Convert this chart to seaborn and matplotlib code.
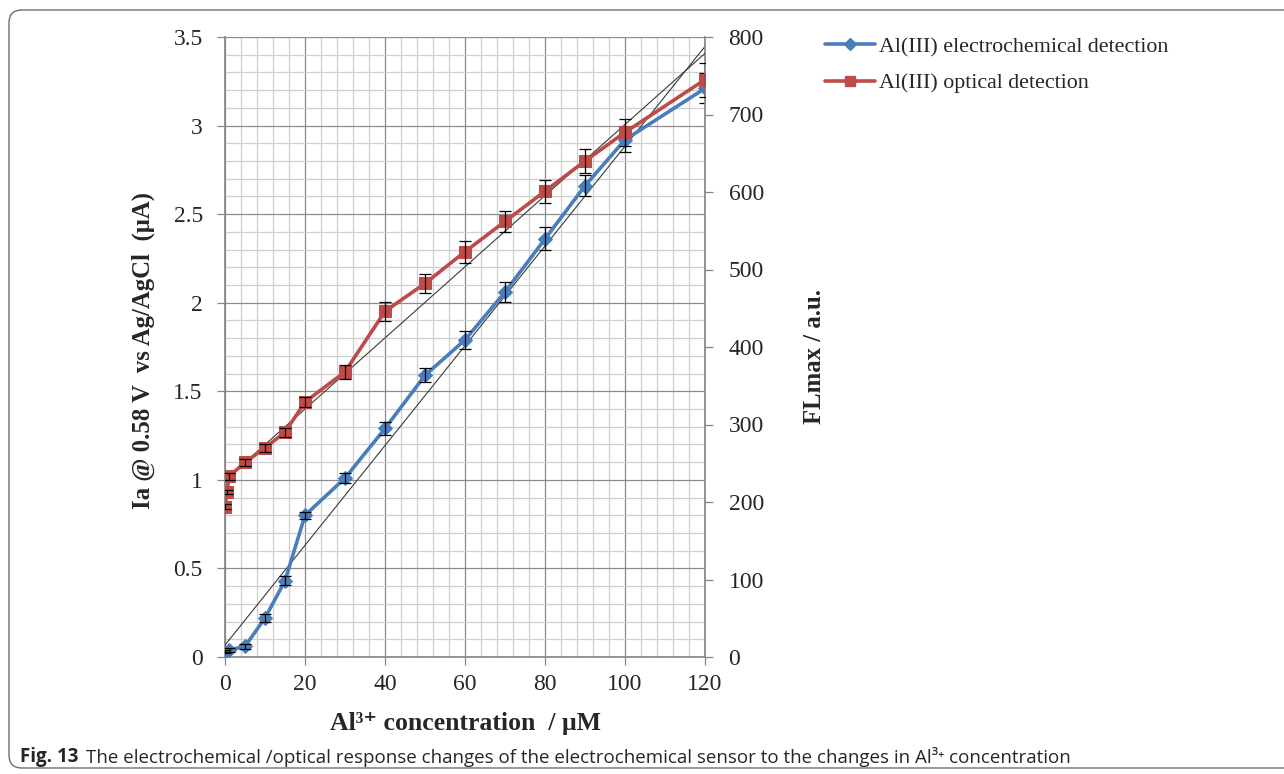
import numpy as np
import pandas as pd
import matplotlib
matplotlib.use("Agg")
import matplotlib.pyplot as plt
import seaborn as sns
from matplotlib.patches import FancyBboxPatch
from matplotlib.lines import Line2D
from matplotlib.ticker import MultipleLocator

# ---------------- data ----------------
conc_echem = [0, 1, 5, 10, 15, 20, 30, 40, 50, 60, 70, 80, 90, 100, 120]
ia_echem = [0.03, 0.04, 0.06, 0.22, 0.43, 0.80, 1.01, 1.29, 1.59, 1.79, 2.06, 2.36, 2.66, 2.92, 3.21]
err_echem = [0.01, 0.01, 0.015, 0.02, 0.025, 0.02, 0.03, 0.035, 0.04, 0.05, 0.055, 0.065, 0.06, 0.07, 0.085]

conc_opt = [0, 0.5, 1, 5, 10, 15, 20, 30, 40, 50, 60, 70, 80, 90, 100, 120]
fl_opt = [194, 213, 233, 251, 270, 290, 329, 368, 446, 482, 523, 562, 601, 640, 677, 745]
err_opt = [3, 3, 4, 4, 5, 6, 7, 9, 12, 12, 14, 14, 15, 16, 17, 22]

x_ticks = [0, 20, 40, 60, 80, 100, 120]
left_ticks = [0, 0.5, 1, 1.5, 2, 2.5, 3, 3.5]
right_ticks = [0, 100, 200, 300, 400, 500, 600, 700, 800]

label_echem = "Al(III) electrochemical detection"
label_opt = "Al(III) optical detection"
caption_bold = "Fig. 13"
caption_text = "The electrochemical /optical response changes of the electrochemical sensor to the changes in Al³⁺ concentration"

# ---------------- style ----------------
sns.set_theme(style="white")
plt.rcParams["font.family"] = ["Liberation Serif", "DejaVu Serif"]

BLUE = "#4A7EBB"
RED = "#BE4B48"
MAJOR_GRID = "#8C8C8C"
MINOR_GRID = "#CFCFCF"
SPINE = "#868686"

W, H = 1284, 774
fig = plt.figure(figsize=(W / 100, H / 100), dpi=100)
fig.patch.set_facecolor("white")

ax = fig.add_axes([225 / W, 1 - 657 / H, 480 / W, 620 / H])
ax2 = ax.twinx()

df_e = pd.DataFrame({"x": conc_echem, "y": ia_echem, "e": err_echem})
df_o = pd.DataFrame({"x": conc_opt, "y": fl_opt, "e": err_opt})

# grid
ax.set_xlim(0, 120)
ax.set_ylim(0, 3.5)
ax.xaxis.set_major_locator(MultipleLocator(20))
ax.xaxis.set_minor_locator(MultipleLocator(4))
ax.yaxis.set_major_locator(MultipleLocator(0.5))
ax.yaxis.set_minor_locator(MultipleLocator(0.1))
ax.grid(True, which="major", color=MAJOR_GRID, linewidth=0.9)
ax.grid(True, which="minor", color=MINOR_GRID, linewidth=0.9)
ax.set_axisbelow(True)

# trendlines (linear fits)
sns.regplot(data=df_e, x="x", y="y", ax=ax, scatter=False, ci=None,
            line_kws=dict(color="#3A3A3A", linewidth=0.8, zorder=3))
sns.regplot(data=df_o, x="x", y="y", ax=ax2, scatter=False, ci=None,
            line_kws=dict(color="#3A3A3A", linewidth=0.8, zorder=3))

# series
sns.lineplot(data=df_e, x="x", y="y", ax=ax, color=BLUE, linewidth=2.6,
             marker="D", markersize=7, markeredgecolor=BLUE, zorder=4, legend=False)
ax.errorbar(df_e["x"], df_e["y"], yerr=df_e["e"], fmt="none", ecolor="black",
            elinewidth=0.9, capsize=4, capthick=0.9, zorder=5)

sns.lineplot(data=df_o, x="x", y="y", ax=ax2, color=RED, linewidth=2.6,
             marker="s", markersize=8.5, markeredgecolor=RED, zorder=4, legend=False)
ax2.errorbar(df_o["x"], df_o["y"], yerr=df_o["e"], fmt="none", ecolor="black",
             elinewidth=0.9, capsize=4, capthick=0.9, zorder=5)

ax.set_xlim(0, 120)
ax.set_ylim(0, 3.5)
ax2.set_ylim(0, 800)
ax.set_xticks(x_ticks)
ax.set_xticklabels([str(v) for v in x_ticks])
ax.set_yticks(left_ticks)
ax.set_yticklabels([f"{v:g}" for v in left_ticks])
ax2.set_yticks(right_ticks)
ax2.set_yticklabels([str(v) for v in right_ticks])

for a in (ax, ax2):
    for s in a.spines.values():
        s.set_visible(False)
ax.spines["left"].set_visible(True)
ax.spines["left"].set_color(SPINE)
ax.spines["bottom"].set_visible(True)
ax.spines["bottom"].set_color(SPINE)
ax2.spines["right"].set_visible(True)
ax2.spines["right"].set_color(SPINE)

ax.tick_params(axis="both", which="major", direction="out", length=6, width=0.9,
               color=SPINE, labelsize=17, pad=6, left=True, bottom=True)
ax.tick_params(axis="y", which="major", pad=10)
ax.tick_params(axis="both", which="minor", length=0)
ax2.tick_params(axis="y", which="major", direction="out", length=6, width=0.9,
                color=SPINE, labelsize=17, pad=11, right=True)
ax2.tick_params(axis="y", which="minor", length=0)
ax2.grid(False)

ax.set_xlabel("Al³⁺ concentration  / μM", fontsize=18.5, fontweight="bold")
ax.xaxis.set_label_coords(0.5, -0.088)
ax.set_ylabel("Ia @ 0.58 V  vs Ag/AgCl  (μA)", fontsize=17.8, fontweight="bold")
ax.yaxis.set_label_coords(-0.146, 0.494)
ax2.set_ylabel("FLmax / a.u.", fontsize=17.8, fontweight="bold")
ax2.yaxis.set_label_coords(1.204, 0.484)

# legend
handles = [
    Line2D([], [], color=BLUE, linewidth=2.6, marker="D", markersize=6, markeredgecolor=BLUE),
    Line2D([], [], color=RED, linewidth=2.6, marker="s", markersize=7.5, markeredgecolor=RED),
]
fig.legend(handles, [label_echem, label_opt], loc="upper left",
           bbox_to_anchor=(805 / W, 1 - 17 / H), frameon=False, fontsize=15.8,
           handlelength=2.3, handletextpad=0.15, labelspacing=0.72)

# frame
frame = FancyBboxPatch((9 / W, 1 - 768 / H), (W + 20) / W, (758) / H,
                       boxstyle="round,pad=0,rounding_size=0.01",
                       transform=fig.transFigure, facecolor="none",
                       edgecolor="#6E6E6E", linewidth=1.0, clip_on=False,
                       mutation_aspect=W / H)
fig.patches.append(frame)

# caption
cap_font = ["Open Sans", "DejaVu Sans"]
t1 = fig.text(20 / W, 1 - 757 / H, caption_bold, fontsize=13.5, fontweight="bold",
              family=cap_font, va="center", ha="left")
fig.canvas.draw()
bb = t1.get_window_extent(renderer=fig.canvas.get_renderer())
fig.text((bb.x1 + 8) / W, 1 - 757 / H, caption_text, fontsize=13.5,
         family=cap_font, va="center", ha="left")

fig.savefig("out.png", dpi=100)
